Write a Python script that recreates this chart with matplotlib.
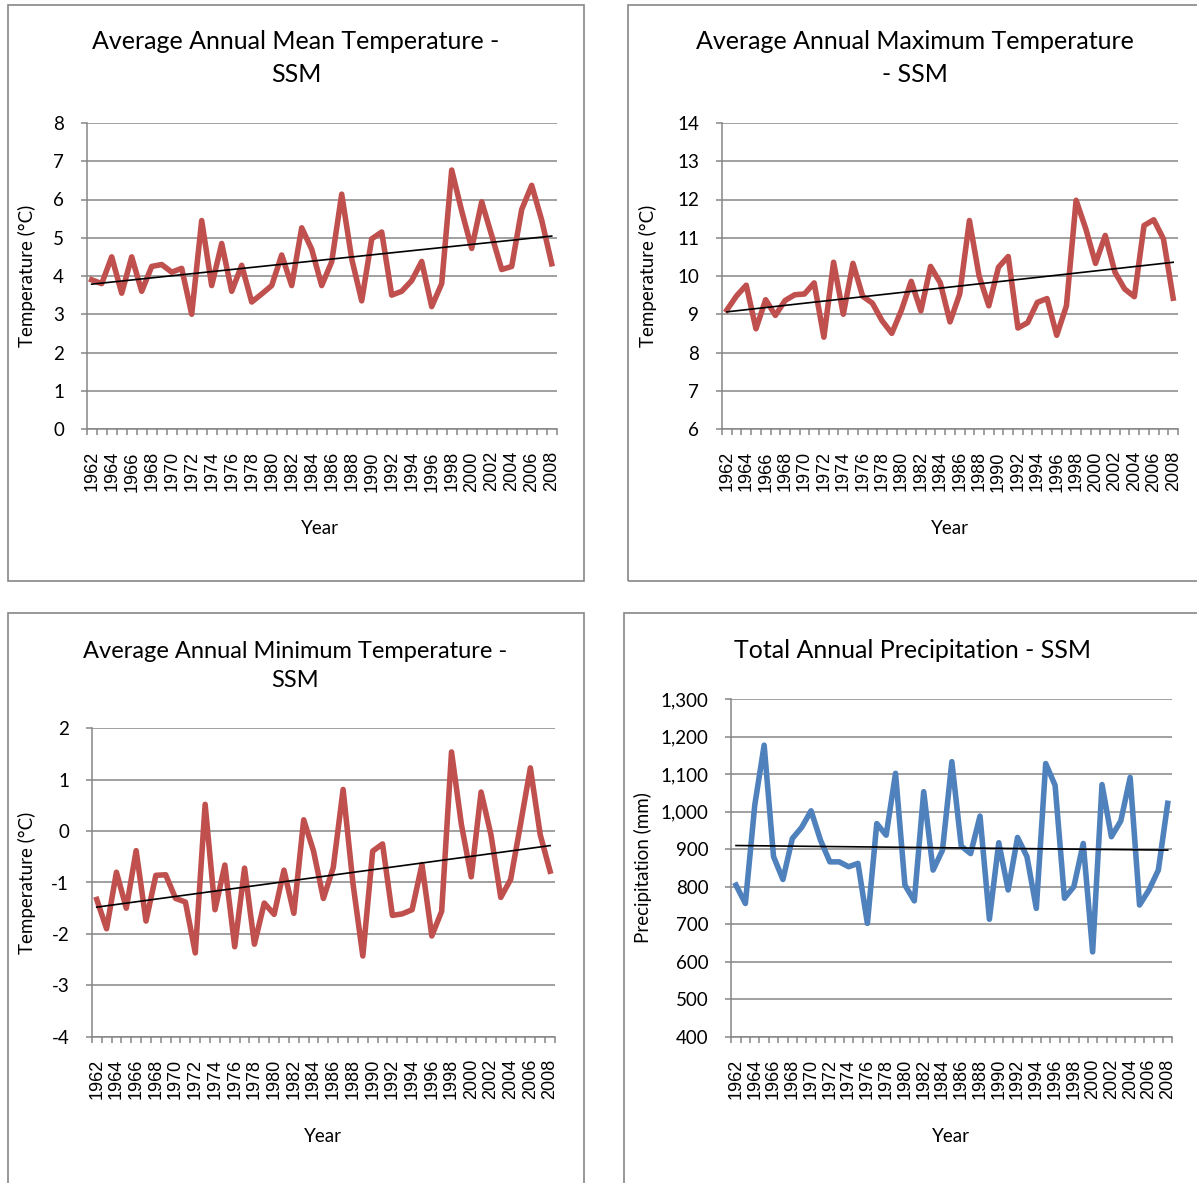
import matplotlib.pyplot as plt
import numpy as np
from matplotlib.patches import Rectangle
from matplotlib.ticker import FuncFormatter

W, H = 1197, 1183
plt.rcParams['axes.unicode_minus'] = False

years = list(range(1962, 2009))

mean_temp = [3.9, 3.8, 4.5, 3.55, 4.5, 3.6, 4.25, 4.3, 4.1, 4.2,
             3.0, 5.45, 3.75, 4.85, 3.6, 4.28, 3.32, 3.53, 3.75, 4.55,
             3.75, 5.26, 4.7, 3.75, 4.37, 6.14, 4.45, 3.35, 4.97, 5.15,
             3.5, 3.6, 3.88, 4.38, 3.2, 3.8, 6.77, 5.7, 4.72, 5.94,
             5.06, 4.17, 4.25, 5.74, 6.37, 5.46, 4.32]

max_temp = [9.11, 9.48, 9.76, 8.62, 9.38, 8.97, 9.36, 9.51, 9.53, 9.82,
            8.4, 10.36, 9.0, 10.33, 9.47, 9.29, 8.83, 8.5, 9.11, 9.86,
            9.09, 10.25, 9.82, 8.8, 9.53, 11.45, 10.0, 9.22, 10.23, 10.51,
            8.64, 8.78, 9.31, 9.41, 8.45, 9.22, 11.98, 11.23, 10.33, 11.06,
            10.1, 9.66, 9.46, 11.32, 11.47, 10.97, 9.42]

min_temp = [-1.33, -1.9, -0.8, -1.5, -0.38, -1.75, -0.86, -0.85, -1.31, -1.38,
            -2.37, 0.52, -1.53, -0.66, -2.25, -0.72, -2.2, -1.4, -1.62, -0.76,
            -1.6, 0.22, -0.39, -1.31, -0.71, 0.81, -1.02, -2.43, -0.39, -0.25,
            -1.64, -1.61, -1.53, -0.65, -2.04, -1.56, 1.54, 0.13, -0.89, 0.76,
            -0.07, -1.29, -0.94, 0.13, 1.23, -0.07, -0.78]

precip = [804, 755, 1017, 1177, 880, 819, 928, 958, 1002, 924,
          866, 866, 853, 862, 702, 968, 937, 1102, 804, 762,
          1053, 844, 897, 1133, 908, 888, 988, 713, 917, 791,
          931, 880, 742, 1128, 1070, 769, 800, 915, 626, 1072,
          933, 975, 1091, 751, 791, 844, 1022]

RED = '#C0504D'
BLUE = '#4F81BD'
GRID = '#868686'
TFONT = 'Lato'

fig = plt.figure(figsize=(W / 100, H / 100), dpi=100)


def fx(x):
    return x / W


def fy(y):
    return 1 - y / H


def panel(box, area, values, color, ylim, ystep, title, title_xy,
          ylabel, ylabel_xy, xlabel_xy, fmt=None, tsize=18):
    # chart area border
    x0, y0, x1, y1 = box
    fig.add_artist(Rectangle((fx(x0), fy(y1)), fx(x1 - x0), (y1 - y0) / H,
                             transform=fig.transFigure, fill=False,
                             edgecolor=GRID, lw=1.2))
    l, t, r, b = area
    ax = fig.add_axes([fx(l), fy(b), fx(r - l), (b - t) / H])
    idx = np.arange(len(years))
    ax.plot(idx, values, color=color, lw=4.0, solid_joinstyle='round',
            zorder=3)
    k, c = np.polyfit(idx, values, 1)
    ax.plot(idx, k * idx + c, color='black', lw=1.2, zorder=4)

    ax.set_xlim(-0.5, len(years) - 0.5)
    ax.set_ylim(*ylim)
    ax.set_yticks(np.arange(ylim[0], ylim[1] + ystep / 2, ystep))
    if fmt:
        ax.yaxis.set_major_formatter(FuncFormatter(fmt))
    else:
        ax.yaxis.set_major_formatter(FuncFormatter(lambda v, p: f'{v:g}'))
    ax.grid(axis='y', color=GRID, lw=1.1)
    ax.set_axisbelow(True)

    ax.set_xticks(idx[::2])
    ax.set_xticklabels([str(y) for y in years[::2]], rotation=90,
                       family='Liberation Sans', fontsize=13)
    ax.set_xticks(np.arange(-0.5, len(years), 1), minor=True)
    ax.tick_params(axis='x', which='major', length=0, pad=16)
    ax.tick_params(axis='x', which='minor', length=4.3, color=GRID,
                   width=1.1)
    ax.tick_params(axis='y', length=4.3, color=GRID, width=1.1, pad=12,
                   labelsize=13.5)
    for lab in ax.get_yticklabels():
        lab.set_family(TFONT)

    for s in ['top', 'right']:
        ax.spines[s].set_visible(False)
    for s in ['left', 'bottom']:
        ax.spines[s].set_color(GRID)
        ax.spines[s].set_linewidth(1.1)

    fig.text(fx(title_xy[0]), fy(title_xy[1]), title, ha='center',
             va='center', family=TFONT, fontsize=tsize, linespacing=1.5)
    fig.text(fx(ylabel_xy[0]), fy(ylabel_xy[1]), ylabel, ha='center',
             va='center', rotation=90, family=TFONT, fontsize=13.5)
    fig.text(fx(xlabel_xy[0]), fy(xlabel_xy[1]), 'Year', ha='center',
             va='center', family=TFONT, fontsize=13.5)
    return ax


panel((8, 5, 584, 580.5), (86.7, 123, 556.7, 429), mean_temp, RED,
      (0, 8), 1, 'Average Annual Mean Temperature -\nSSM', (296, 58),
      'Temperature (°C)', (27, 276), (320, 528))

panel((628, 5, 1200, 580.5), (722, 123, 1178, 429), max_temp, RED,
      (6, 14), 1, 'Average Annual Maximum Temperature\n- SSM', (915, 58),
      'Temperature (°C)', (648, 276), (950, 528))

panel((8, 613, 584, 1190), (91.8, 728.3, 555, 1036.7), min_temp, RED,
      (-4, 2), 1, 'Average Annual Minimum Temperature -\nSSM', (295, 666),
      'Temperature (°C)', (27, 883), (323, 1137), tsize=17)

panel((624, 613, 1200, 1190), (731.3, 699, 1172.4, 1036.7), precip, BLUE,
      (400, 1300), 100, 'Total Annual Precipitation - SSM', (913, 651),
      'Precipitation (mm)', (643, 868), (951, 1137),
      fmt=lambda v, p: f'{v:,.0f}')

fig.savefig('out.png', dpi=100)
